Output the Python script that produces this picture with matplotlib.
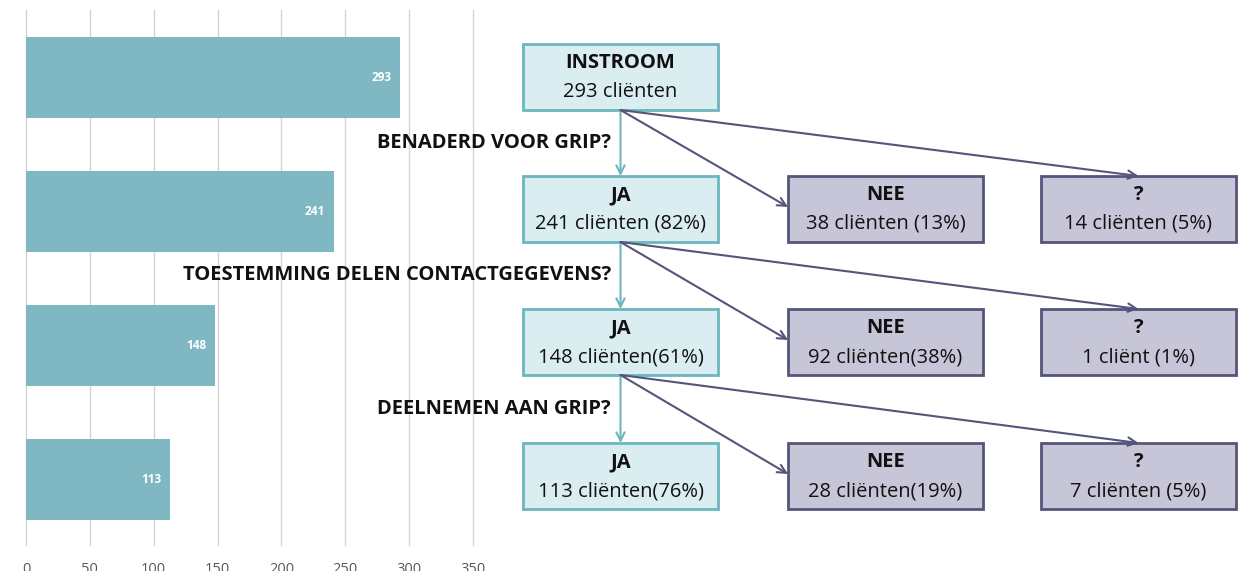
import matplotlib.pyplot as plt
from matplotlib.patches import Rectangle

# data
stages = ["INSTROOM", "BENADERD", "TOESTEMMING", "DEELNEMEN"]
values = [293, 241, 148, 113]
questions = ["BENADERD VOOR GRIP?", "TOESTEMMING DELEN CONTACTGEGEVENS?", "DEELNEMEN AAN GRIP?"]
ja_labels = ["241 cliënten (82%)", "148 cliënten(61%)", "113 cliënten(76%)"]
nee_labels = ["38 cliënten (13%)", "92 cliënten(38%)", "28 cliënten(19%)"]
onb_labels = ["14 cliënten (5%)", "1 cliënt (1%)", "7 cliënten (5%)"]
xticks = [0, 50, 100, 150, 200, 250, 300, 350]

W, H = 1247, 571
fig = plt.figure(figsize=(W / 100, H / 100), dpi=100)
plt.rcParams['font.family'] = ['Open Sans', 'DejaVu Sans']

bar_col = "#7fb8c3"
teal = "#6cb6be"
teal_fill = "#daedf0"
dark = "#55557a"
grey_fill = "#c6c6d8"

# bar chart on the left
ax = fig.add_axes([26 / W, 1 - 545 / H, (473 - 26) / W, 535 / H])
ypos = list(range(len(values)))
ax.barh(ypos, values, height=0.6, color=bar_col, zorder=2)
for y, v in zip(ypos, values):
    ax.text(v - 7, y, str(v), color="white", fontsize=8.5, fontweight="bold",
            ha="right", va="center", zorder=3)
ax.set_xlim(0, 350)
ax.set_ylim(3.49, -0.504)
ax.set_xticks(xticks)
ax.set_yticks([])
ax.grid(axis="x", color="#d4d4d4", lw=1, zorder=1)
for gl in ax.get_xgridlines():
    gl.set_clip_on(False)
for s in ax.spines.values():
    s.set_visible(False)
ax.tick_params(axis="x", length=0, pad=12, labelsize=10.5, labelcolor="#595959")

# flow diagram overlay in pixel coordinates
ov = fig.add_axes([0, 0, 1, 1], zorder=5)
ov.set_xlim(0, W)
ov.set_ylim(H, 0)
ov.axis("off")
ov.patch.set_alpha(0)

bw, bh = 195, 66
cols = [523, 788, 1041]
rows = [44, 176, 309, 443]


def box(x, y, title, sub, fc, ec):
    ov.add_patch(Rectangle((x, y), bw, bh, facecolor=fc, edgecolor=ec, lw=2))
    ov.text(x + bw / 2, y + 19, title, ha="center", va="center",
            fontsize=14.5, fontweight="bold", color="#111111")
    ov.text(x + bw / 2, y + 48, sub, ha="center", va="center",
            fontsize=14.5, color="#111111")


def arrow(x0, y0, x1, y1, c):
    ov.annotate("", xy=(x1, y1), xytext=(x0, y0),
                arrowprops=dict(arrowstyle="->,head_length=0.6,head_width=0.3",
                                color=c, lw=1.5, shrinkA=0, shrinkB=0))


box(cols[0], rows[0], "INSTROOM", f"{values[0]} cliënten", teal_fill, teal)
for i in range(3):
    top = rows[i + 1]
    src_x, src_y = cols[0] + bw / 2, rows[i] + bh
    box(cols[0], top, "JA", ja_labels[i], teal_fill, teal)
    box(cols[1], top, "NEE", nee_labels[i], grey_fill, dark)
    box(cols[2], top, "?", onb_labels[i], grey_fill, dark)
    arrow(src_x, src_y, src_x, top, teal)
    arrow(src_x, src_y, cols[1], top + bh / 2 - 2, dark)
    arrow(src_x, src_y, cols[2] + bw / 2, top, dark)
    ov.text(611, (src_y + top) / 2, questions[i], ha="right", va="center",
            fontsize=14.5, fontweight="bold", color="#111111")

fig.savefig("out.png", dpi=100)
